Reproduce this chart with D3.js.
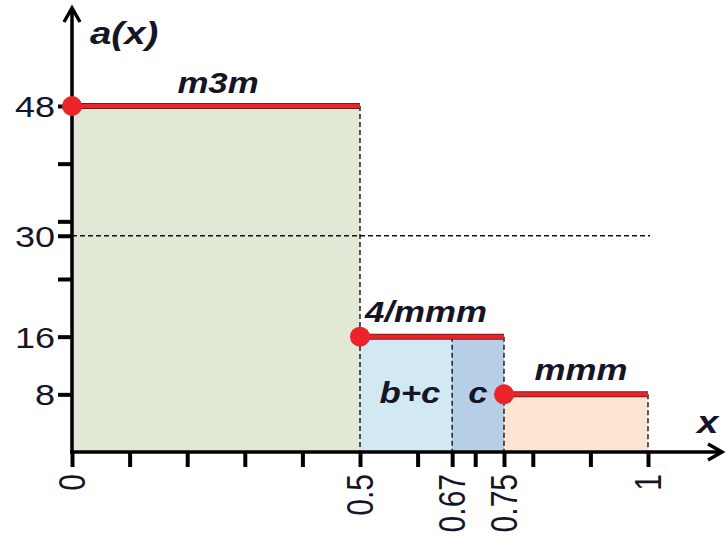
<!DOCTYPE html>
<html>
<head>
<meta charset="utf-8">
<script src="https://cdn.jsdelivr.net/npm/d3@7"></script>
<style>
body{margin:0;background:#fff;}
text{font-family:"Liberation Sans",Arial,sans-serif;fill:#151528;}
.lbl{font-weight:bold;font-style:italic;}
</style>
</head>
<body>
<div id="chart"></div>
<script>
// step function a(x)
var breaks=[0,0.5,0.66,0.75,1]
var levels=[48,16,16,8]
var fills=["#e2e8d6","#d2e8f3","#b8cfe8","#fde4d3"]
// red segments (start, end, value)
var segStart=[0,0.5,0.75]
var segEnd=[0.5,0.75,1]
var segVal=[48,16,8]
var segText=["m3m","4/mmm","mmm"]
var xTicks=[0,0.1,0.2,0.3,0.4,0.5,0.6,0.66,0.7,0.75,0.8,0.9,1]
var xLabelVals=[0,0.5,0.66,0.75,1]
var xLabelText=["0","0.5","0.67","0.75","1"]
var yTicks=[8,16,24,30,32,40,48]
var yLabelVals=[48,30,16,8]

var width=728,height=541
var sx=1.2 // the picture's text is a bit wide

var svg=d3.select("#chart").append("svg")
    .attr("width",width)
    .attr("height",height)

var x=d3.scaleLinear().domain([0,1]).range([72,648])
var y=d3.scaleLinear().domain([0,48]).range([452,106])

// filled areas
svg.selectAll(".area")
.data(levels)
.enter()
.append("rect")
.attr("x",function(d,i){return x(breaks[i])})
.attr("width",function(d,i){return x(breaks[i+1])-x(breaks[i])})
.attr("y",function(d){return y(d)})
.attr("height",function(d){return y(0)-y(d)})
.style("fill",function(d,i){return fills[i]})

// dashed verticals
var vlines=[{x:0.5,v:48},{x:0.66,v:16},{x:0.75,v:16},{x:1,v:8}]
svg.selectAll(".vdash")
.data(vlines)
.enter()
.append("line")
.attr("x1",function(d){return x(d.x)}).attr("x2",function(d){return x(d.x)})
.attr("y1",function(d){return y(d.v)}).attr("y2",y(0))
.style("stroke","#111").style("stroke-width",1.4).style("stroke-dasharray","5,3")

// dashed horizontal at 30
svg.append("line")
.attr("x1",x(0)).attr("x2",x(1)+2)
.attr("y1",y(30)).attr("y2",y(30))
.style("stroke","#111").style("stroke-width",1.4).style("stroke-dasharray","5,3")

// red segments
svg.selectAll(".seg")
.data(segVal)
.enter()
.append("line")
.attr("x1",function(d,i){return x(segStart[i])})
.attr("x2",function(d,i){return x(segEnd[i])})
.attr("y1",function(d){return y(d)}).attr("y2",function(d){return y(d)})
.style("stroke","#7a1c1c").style("stroke-width",6)
svg.selectAll(".seg2")
.data(segVal)
.enter()
.append("line")
.attr("x1",function(d,i){return x(segStart[i])})
.attr("x2",function(d,i){return x(segEnd[i])})
.attr("y1",function(d){return y(d)}).attr("y2",function(d){return y(d)})
.style("stroke","#ea2429").style("stroke-width",4)

// axes
var xAxis=d3.axisBottom(x).tickValues(xTicks).tickSize(15).tickFormat("")
var gx=svg.append("g").attr("transform","translate(0,"+y(0)+")").call(xAxis)
gx.select(".domain").remove()
gx.selectAll(".tick line").style("stroke","#000").style("stroke-width",4)

var yAxis=d3.axisLeft(y).tickValues(yTicks).tickSize(14).tickFormat("")
var gy=svg.append("g").attr("transform","translate("+x(0)+",0)").call(yAxis)
gy.select(".domain").remove()
gy.selectAll(".tick line").style("stroke","#000").style("stroke-width",4)

// axis lines with arrows
svg.append("line").attr("x1",x(0)).attr("x2",x(0)).attr("y1",y(0)+2).attr("y2",9)
.style("stroke","#000").style("stroke-width",3.5)
svg.append("path").attr("d","M"+(x(0)-8)+",22L"+x(0)+",8L"+(x(0)+8)+",22")
.style("fill","none").style("stroke","#000").style("stroke-width",3.5)
svg.append("line").attr("x1",x(0)-2).attr("x2",722).attr("y1",y(0)).attr("y2",y(0))
.style("stroke","#000").style("stroke-width",3.5)
svg.append("path").attr("d","M708,"+(y(0)-8)+"L722,"+y(0)+"L708,"+(y(0)+8))
.style("fill","none").style("stroke","#000").style("stroke-width",3.5)

// dots
svg.selectAll(".dot")
.data(segVal)
.enter()
.append("circle")
.attr("cx",function(d,i){return x(segStart[i])})
.attr("cy",function(d){return y(d)})
.attr("r",10)
.style("fill","#ea2429")

// y labels
svg.selectAll(".ylab")
.data(yLabelVals)
.enter()
.append("text")
.attr("transform",function(d){return "translate(55,"+(y(d)+11)+") scale("+sx+",1)"})
.attr("text-anchor","end")
.style("font-size","30px")
.text(function(d){return d})

// x labels rotated
svg.selectAll(".xlab")
.data(xLabelVals)
.enter()
.append("text")
.attr("transform",function(d){return "translate("+(x(d)+13)+",474) scale("+sx+",1) rotate(-90)"})
.attr("text-anchor","end")
.style("font-size","30px")
.text(function(d,i){return xLabelText[i]})

// segment labels
var segLabX=[218,426,581]
var segLabY=[93,322,380]
svg.selectAll(".seglab")
.data(segText)
.enter()
.append("text")
.attr("class","lbl")
.attr("transform",function(d,i){return "translate("+segLabX[i]+","+segLabY[i]+") scale("+sx+",1)"})
.attr("text-anchor","middle")
.style("font-size","29px")
.text(function(d){return d})

function lab(t,px,py,fs,anchor){
  svg.append("text").attr("class","lbl")
  .attr("transform","translate("+px+","+py+") scale("+sx+",1)")
  .attr("text-anchor",anchor)
  .style("font-size",fs+"px").text(t)
}
lab("b+c",410,403,29,"middle")
lab("c",478,403,29,"middle")
lab("a(x)",90,44,32,"start")
lab("x",697,433,32,"start")
</script>
</body>
</html>
